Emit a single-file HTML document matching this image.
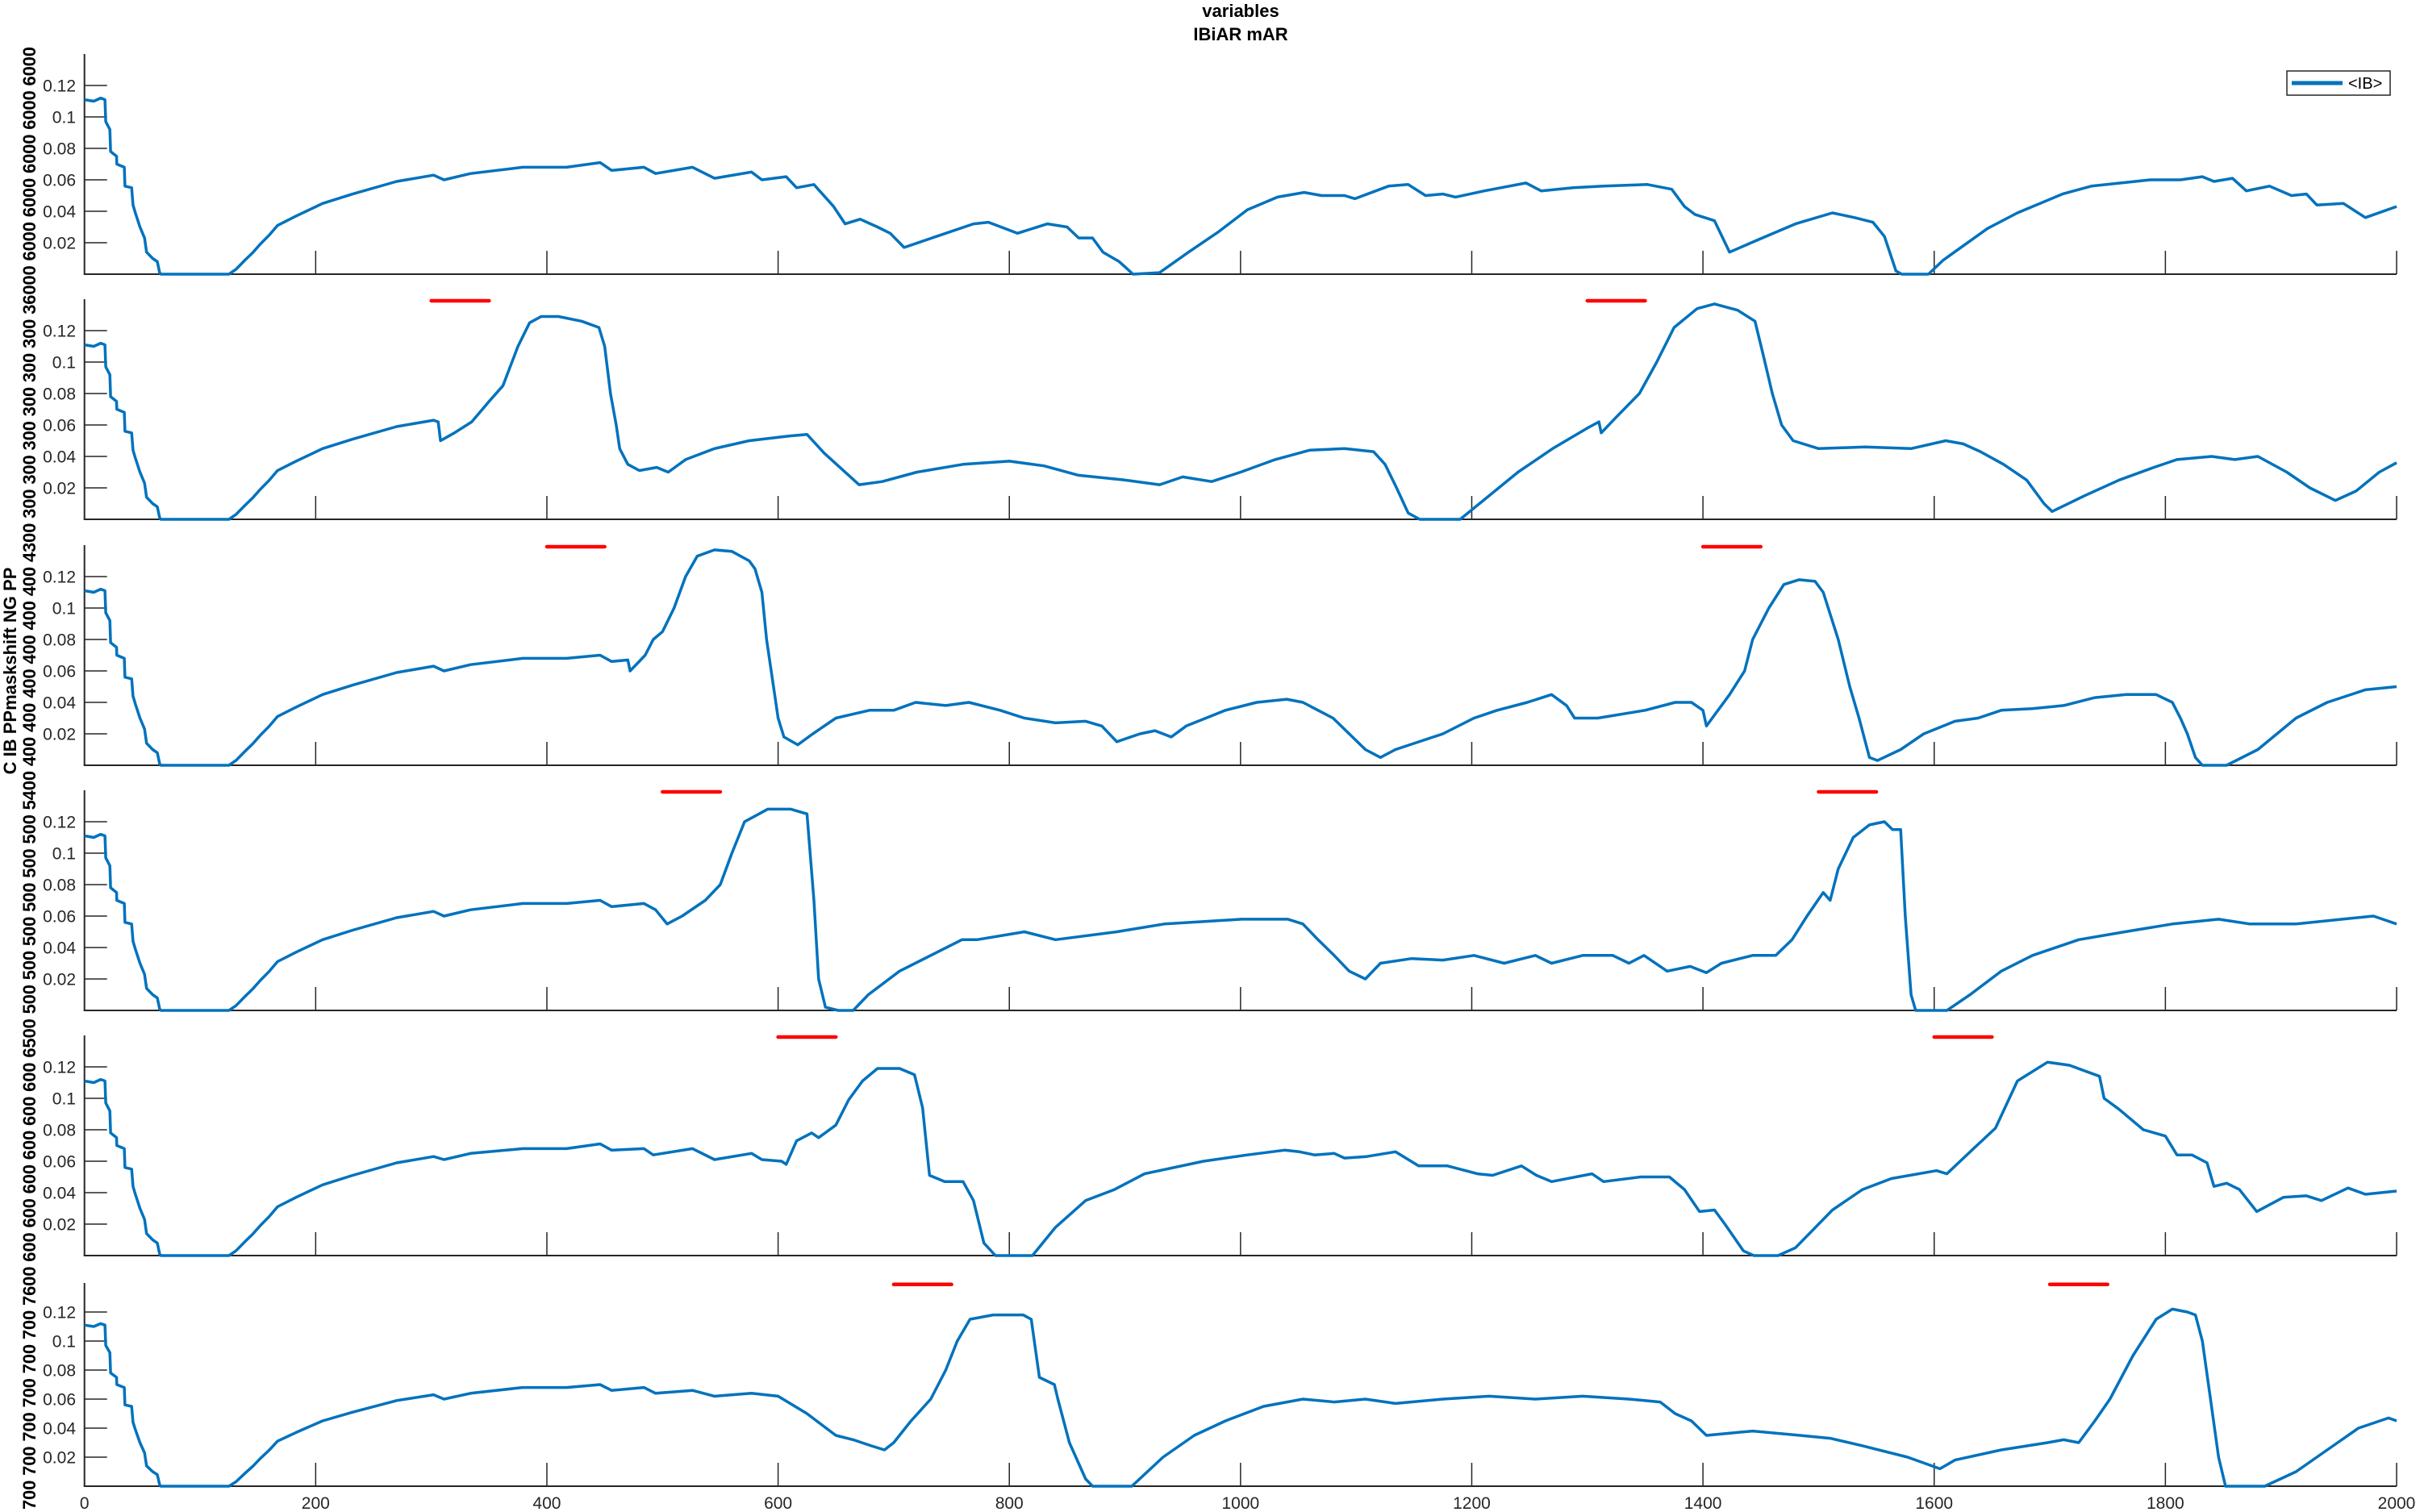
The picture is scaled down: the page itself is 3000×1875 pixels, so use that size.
<!DOCTYPE html>
<html><head><meta charset="utf-8"><title>variables IBiAR mAR</title>
<style>html,body{margin:0;padding:0;background:#fff}svg{display:block}</style></head>
<body>
<svg id="chart" xmlns="http://www.w3.org/2000/svg" width="3000" height="1875" viewBox="0 0 3000 1875" font-family="Liberation Sans, DejaVu Sans, sans-serif">
<rect width="3000" height="1875" fill="#fff"/>
<text x="1538" y="21" text-anchor="middle" font-size="22" font-weight="bold" fill="#000">variables</text>
<text x="1538" y="50" text-anchor="middle" font-size="22" font-weight="bold" fill="#000">IBiAR mAR</text>
<text transform="translate(20,832) rotate(-90)" text-anchor="middle" font-size="22" font-weight="bold" fill="#000">C IB PPmaskshift NG PP</text>
<text transform="translate(44,1872) rotate(-90)" textLength="1814" lengthAdjust="spacing" font-size="22" font-weight="bold" fill="#000">700 700 700 700 700 700 7600 600 600 600 600 600 600 6500 500 500 500 500 500 500 5400 400 400 400 400 400 400 4300 300 300 300 300 300 300 36000 6000 6000 6000 6000 6000</text>
<g id="plots"></g>
<g>
<rect x="2835" y="88" width="128" height="30" fill="#fff" stroke="#262626" stroke-width="1.5"/>
<line x1="2841" y1="103" x2="2904" y2="103" stroke="#0072BD" stroke-width="5"/>
<text x="2911" y="110" font-size="20" fill="#000">&lt;IB&gt;</text>
</g>
</svg>
<script>
const xTicks = [0,200,400,600,800,1000,1200,1400,1600,1800,2000];
const yTicks = [0.02,0.04,0.06,0.08,0.1,0.12];
const yTickLabels = ["0.02","0.04","0.06","0.08","0.1","0.12"];
const markerValue = 0.139;
const markerStarts = [[],[300,1300],[400,1400],[500,1500],[600,1600],[700,1700]];
const markerLength = 50;
const commonStart = [[0,.111],[8,.110],[14,.112],[17.7,.111],[18.4,.097],[22,.092],[22.6,.078],[27.8,.075],[28,.070],[34.5,.068],[35,.056],[40.8,.055],[42,.044],[44,.039],[48,.030],[52,.023],[53.7,.014],[59,.010],[63,.008],[65,.001],[66,0],[125,0],[131,.003],[139,.009],[146,.014],[152,.019],[160,.025],[167,.031],[183,.037],[206,.045],[232,.051],[270,.059],[302,.063]];
const panel1 = [[311,.060],[334,.064],[379,.068],[417,.068],[446,.071],[456,.066],[484,.068],[494,.064],[526,.068],[545,.061],[577,.065],[586,.060],[607,.062],[616,.055],[631,.057],[648,.043],[658,.032],[671,.035],[686,.030],[697,.026],[709,.017],[737,.024],[769,.032],[782,.033],[807,.026],[833,.032],[850,.030],[860,.023],[872,.023],[881,.014],[895,.008],[907,0],[930,.001],[955,.014],[981,.027],[1006,.041],[1032,.049],[1055,.052],[1070,.050],[1090,.050],[1099,.048],[1128,.056],[1145,.057],[1160,.050],[1175,.051],[1186,.049],[1211,.053],[1247,.058],[1260,.053],[1288,.055],[1314,.056],[1352,.057],[1373,.054],[1384,.043],[1393,.038],[1410,.034],[1423,.014],[1448,.022],[1480,.032],[1512,.039],[1531,.036],[1547,.033],[1557,.024],[1567,.002],[1572,0],[1595,0],[1608,.009],[1646,.029],[1672,.039],[1711,.051],[1736,.056],[1787,.060],[1813,.060],[1832,.062],[1842,.059],[1858,.061],[1870,.053],[1890,.056],[1909,.050],[1922,.051],[1931,.044],[1954,.045],[1973,.036],[2000,.043]];
const panel2 = [[306,.062],[308,.050],[320,.055],[335,.062],[350,.075],[362,.085],[375,.110],[385,.125],[395,.129],[410,.129],[430,.126],[445,.122],[450,.110],[455,.080],[460,.060],[463,.045],[470,.035],[480,.031],[495,.033],[505,.030],[520,.038],[545,.045],[575,.050],[610,.053],[625,.054],[630,.050],[640,.042],[655,.032],[670,.022],[690,.024],[720,.030],[760,.035],[800,.037],[830,.034],[860,.028],[900,.025],[930,.022],[950,.027],[975,.024],[1000,.030],[1030,.038],[1060,.044],[1090,.045],[1115,.043],[1125,.035],[1135,.020],[1145,.004],[1155,0],[1190,0],[1210,.012],[1240,.030],[1270,.045],[1300,.058],[1310,.062],[1312,.055],[1325,.065],[1345,.080],[1360,.100],[1375,.122],[1395,.134],[1410,.137],[1430,.133],[1445,.126],[1452,.105],[1460,.080],[1468,.060],[1478,.050],[1500,.045],[1540,.046],[1580,.045],[1610,.050],[1625,.048],[1640,.043],[1660,.035],[1680,.025],[1695,.010],[1702,.005],[1730,.015],[1760,.025],[1790,.033],[1810,.038],[1840,.040],[1860,.038],[1880,.040],[1905,.030],[1925,.020],[1947,.012],[1965,.018],[1985,.030],[2000,.036]];
const panel3 = [[311,.060],[334,.064],[379,.068],[417,.068],[446,.070],[456,.066],[470,.067],[472,.060],[485,.070],[492,.080],[500,.085],[510,.100],[520,.120],[530,.133],[545,.137],[560,.136],[575,.130],[580,.125],[586,.110],[590,.080],[596,.050],[600,.030],[605,.018],[617,.013],[630,.020],[650,.030],[679,.035],[700,.035],[719,.040],[745,.038],[765,.040],[792,.035],[813,.030],[840,.027],[866,.028],[880,.025],[893,.015],[913,.020],[926,.022],[940,.018],[953,.025],[987,.035],[1014,.040],[1040,.042],[1054,.040],[1067,.035],[1080,.030],[1094,.020],[1108,.010],[1121,.005],[1134,.010],[1175,.020],[1202,.030],[1222,.035],[1248,.040],[1269,.045],[1282,.038],[1289,.030],[1309,.030],[1350,.035],[1376,.040],[1390,.040],[1400,.035],[1403,.025],[1423,.045],[1436,.060],[1443,.080],[1457,.100],[1470,.115],[1483,.118],[1497,.117],[1504,.110],[1517,.080],[1527,.050],[1535,.030],[1544,.005],[1551,.003],[1571,.010],[1591,.020],[1618,.028],[1638,.030],[1658,.035],[1685,.036],[1712,.038],[1739,.043],[1766,.045],[1792,.045],[1806,.040],[1813,.030],[1819,.020],[1826,.005],[1832,0],[1853,0],[1880,.010],[1913,.030],[1940,.040],[1973,.048],[2000,.050]];
const panel4 = [[311,.060],[334,.064],[379,.068],[417,.068],[446,.070],[456,.066],[484,.068],[494,.064],[504,.055],[517,.060],[537,.070],[550,.080],[560,.100],[571,.120],[591,.128],[611,.128],[625,.125],[631,.070],[635,.020],[641,.002],[652,0],[665,0],[678,.010],[705,.025],[732,.035],[759,.045],[772,.045],[813,.050],[840,.045],[893,.050],[934,.055],[1001,.058],[1041,.058],[1054,.055],[1067,.045],[1081,.035],[1094,.025],[1108,.020],[1121,.030],[1148,.033],[1175,.032],[1202,.035],[1228,.030],[1255,.035],[1269,.030],[1296,.035],[1322,.035],[1336,.030],[1349,.035],[1369,.025],[1389,.028],[1403,.024],[1416,.030],[1443,.035],[1463,.035],[1477,.045],[1490,.060],[1504,.075],[1510,.070],[1517,.090],[1530,.110],[1544,.118],[1557,.120],[1564,.115],[1571,.115],[1575,.060],[1580,.010],[1584,0],[1611,0],[1631,.010],[1658,.025],[1685,.035],[1725,.045],[1765,.050],[1806,.055],[1846,.058],[1873,.055],[1913,.055],[1953,.058],[1980,.060],[2000,.055]];
const panel5 = [[311,.061],[334,.065],[379,.068],[417,.068],[446,.071],[456,.067],[484,.068],[492,.064],[526,.068],[545,.061],[577,.065],[586,.061],[603,.060],[607,.058],[616,.073],[629,.078],[635,.075],[650,.083],[661,.099],[673,.111],[686,.119],[705,.119],[718,.115],[725,.094],[731,.051],[744,.047],[760,.047],[769,.035],[778,.008],[788,0],[820,0],[840,.018],[866,.035],[891,.042],[917,.052],[968,.060],[1006,.064],[1038,.067],[1051,.066],[1064,.064],[1081,.065],[1090,.062],[1109,.063],[1134,.066],[1154,.057],[1179,.057],[1205,.052],[1218,.051],[1243,.057],[1256,.051],[1269,.047],[1304,.052],[1314,.047],[1346,.050],[1371,.050],[1384,.042],[1397,.028],[1410,.029],[1419,.020],[1435,.003],[1444,0],[1465,0],[1480,.005],[1512,.029],[1538,.042],[1563,.049],[1602,.054],[1611,.052],[1634,.068],[1653,.081],[1672,.111],[1698,.123],[1717,.121],[1743,.114],[1747,.100],[1760,.093],[1781,.080],[1800,.076],[1810,.064],[1823,.064],[1836,.059],[1842,.044],[1853,.046],[1864,.042],[1879,.028],[1902,.037],[1922,.038],[1935,.035],[1958,.043],[1973,.039],[2000,.041]];
const panel6 = [[311,.060],[334,.064],[379,.068],[417,.068],[446,.070],[456,.066],[484,.068],[494,.064],[526,.066],[545,.062],[577,.064],[600,.062],[625,.050],[650,.035],[665,.032],[680,.028],[692,.025],[700,.030],[715,.045],[732,.060],[745,.080],[755,.100],[766,.115],[786,.118],[812,.118],[819,.115],[826,.075],[839,.070],[842,.060],[852,.030],[866,.005],[872,0],[906,0],[933,.020],[960,.035],[987,.045],[1020,.055],[1054,.060],[1081,.058],[1108,.060],[1134,.057],[1175,.060],[1215,.062],[1255,.060],[1296,.062],[1336,.060],[1363,.058],[1376,.050],[1390,.045],[1403,.035],[1443,.038],[1484,.035],[1510,.033],[1537,.028],[1577,.020],[1605,.012],[1618,.018],[1658,.025],[1698,.030],[1712,.032],[1725,.030],[1739,.045],[1752,.060],[1772,.090],[1792,.115],[1806,.122],[1819,.120],[1826,.118],[1832,.100],[1839,.060],[1846,.020],[1852,0],[1886,0],[1913,.010],[1940,.025],[1967,.040],[1993,.047],[2000,.045]];
const panelSeries = [panel1, panel2, panel3, panel4, panel5, panel6];

const NS = "http://www.w3.org/2000/svg";
const plotLeft = 104.7, plotRight = 2971;
const panelTops = [67, 371, 676, 980, 1284, 1591];
const panelBottoms = [340, 644, 949, 1253, 1557, 1843];
const yMax = 0.14, xMax = 2000;
function xScale(v){ return plotLeft + v / xMax * (plotRight - plotLeft); }
function yScaleFor(i){ return function(v){ return panelBottoms[i] - v / yMax * (panelBottoms[i] - panelTops[i]); }; }
function mk(tag, attrs){ const e = document.createElementNS(NS, tag); for (const k in attrs) e.setAttribute(k, attrs[k]); return e; }
const root = document.getElementById('plots');

panelSeries.forEach(function(series, i){
  const ys = yScaleFor(i);
  const g = mk('g', {});
  
  
  root.appendChild(g);
  const top = panelTops[i], bot = panelBottoms[i];
  // y axis
  const ya = mk('line', {x1: plotLeft, y1: top, x2: plotLeft, y2: bot, stroke: '#262626', 'stroke-width': 2});
  
  
  g.appendChild(ya);
  const xa = mk('line', {x1: plotLeft - 1, y1: bot, x2: plotRight, y2: bot, stroke: '#262626', 'stroke-width': 2});
  
  
  g.appendChild(xa);
  yTicks.forEach(function(t, j){
    const y = ys(t);
    const tl = mk('line', {x1: plotLeft, y1: y, x2: plotLeft + 28, y2: y, stroke: '#262626', 'stroke-width': 1.5});
    
    
    g.appendChild(tl);
    const tx = mk('text', {x: 94, y: y + 7.5, 'text-anchor': 'end', 'font-size': 21, fill: '#262626'});
    tx.textContent = yTickLabels[j];
    
    
    g.appendChild(tx);
  });
  xTicks.forEach(function(t){
    if (t === 0) return;
    const x = xScale(t);
    const tl = mk('line', {x1: x, y1: bot, x2: x, y2: bot - 29, stroke: '#262626', 'stroke-width': 1.5});
    
    
    g.appendChild(tl);
  });
  if (i === panelSeries.length - 1) {
    xTicks.forEach(function(t){
      const tx = mk('text', {x: xScale(t), y: bot + 28, 'text-anchor': 'middle', 'font-size': 21, fill: '#262626'});
      tx.textContent = String(t);
      
      
      g.appendChild(tx);
    });
  }
  const pts = commonStart.concat(series).map(function(p){ return xScale(p[0]).toFixed(1) + ',' + ys(p[1]).toFixed(1); }).join(' ');
  const pl = mk('polyline', {points: pts, fill: 'none', stroke: '#0072BD', 'stroke-width': 3.5, 'stroke-linejoin': 'round'});
  
  
  g.appendChild(pl);
  markerStarts[i].forEach(function(s){
    const m = mk('line', {x1: xScale(s), y1: ys(markerValue), x2: xScale(s + markerLength), y2: ys(markerValue), stroke: '#FF0000', 'stroke-width': 4.5, 'stroke-linecap': 'round'});
    
    
    g.appendChild(m);
  });
});
</script>
</body></html>
